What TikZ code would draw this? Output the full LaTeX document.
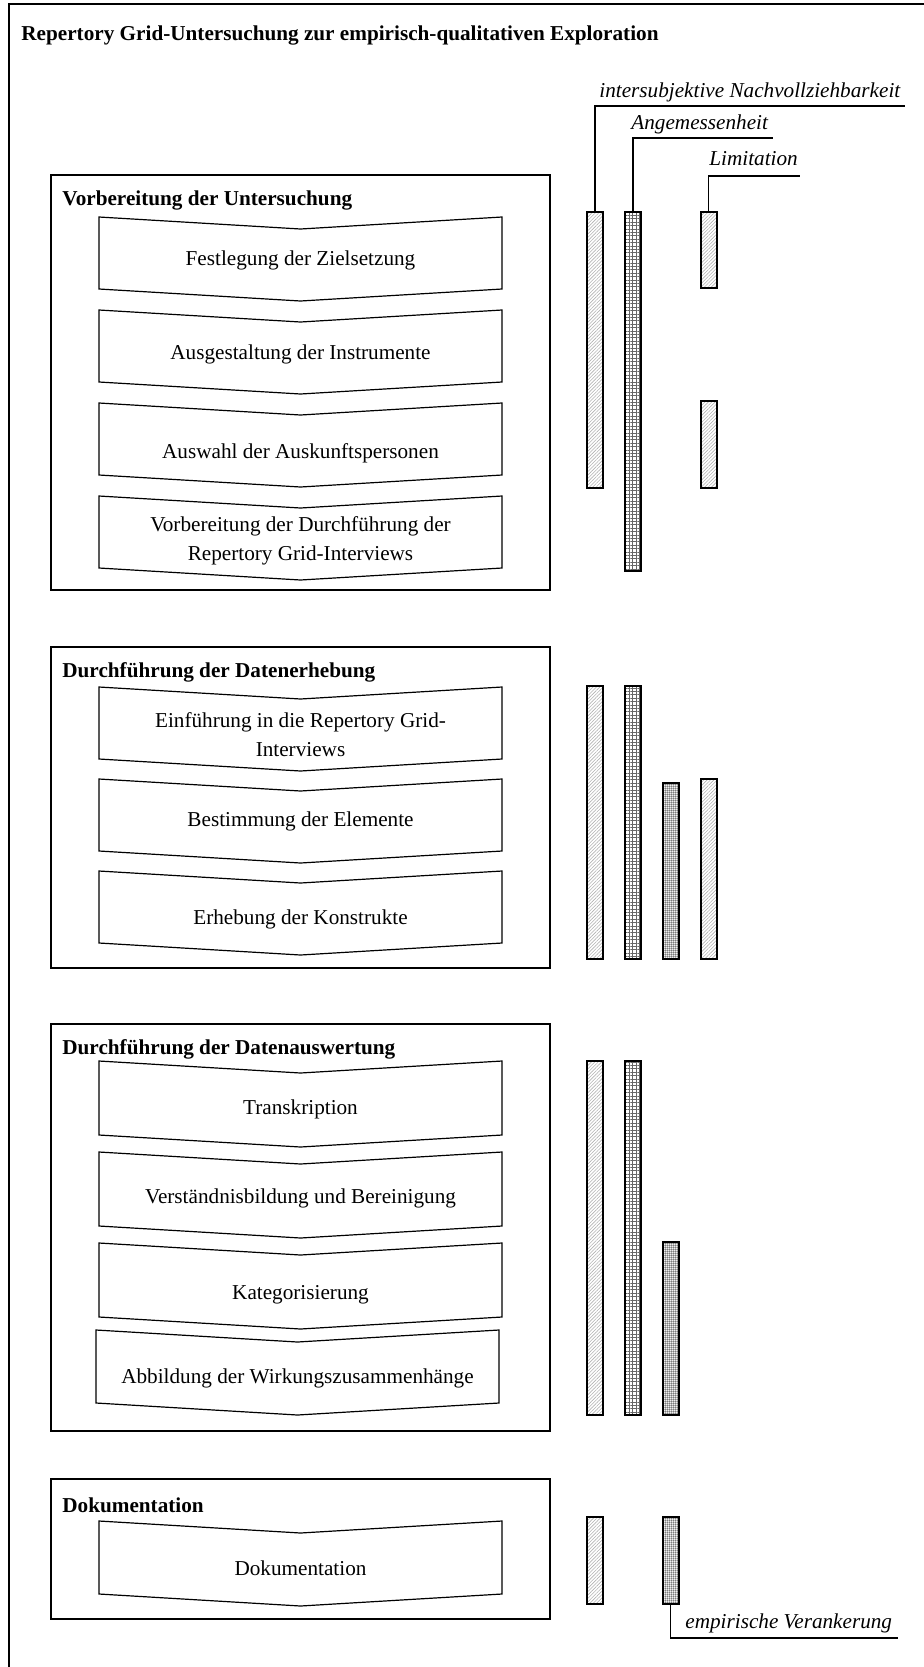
\documentclass[tikz,border=0pt]{standalone}
\usepackage{fontspec}
\setmainfont{Liberation Serif}
\usetikzlibrary{patterns.meta}
\tikzset{
  frame/.style={line width=0.65pt},
  secbox/.style={draw, line width=0.7pt, inner sep=0pt, outer sep=0pt},
  chev/.style={draw, line width=0.6pt, line join=miter},
  ctext/.style={align=center, font=\fontsize{10.6}{14.5}\selectfont, inner sep=0pt},
  sectitle/.style={anchor=west, font=\fontsize{10.6}{13}\selectfont\bfseries, inner sep=0pt},
  crit/.style={anchor=base west, font=\fontsize{10.6}{13}\selectfont\itshape, inner sep=0pt},
  barbase/.style={draw, line width=1pt, inner sep=0pt, outer sep=0pt, minimum width=8pt},
  barA/.style={barbase, pattern={Lines[angle=45,distance=1.2pt,line width=0.3pt]}, pattern color=gray!60},
  barB/.style={barbase, pattern={Hatch[angle=0,distance=1.7pt,line width=0.28pt]}, pattern color=black!60},
  barC/.style={barbase, pattern={Dots[distance=0.9pt,radius=0.42pt]}, pattern color=black!70},
  barD/.style={barA},
  lead/.style={line width=0.65pt},
}
\newcommand\mybar[5]{\node[#2, minimum height={(#5-#4)*0.5pt}] (#1) at (#3,{(#4+#5)/2}) {};}
\newcommand\mychev[5]{%
  \draw[chev] (99,#2) -- (300.5,{#2+12}) -- (502,#2) -- (502,#3) -- (300.5,{#3+12}) -- (99,#3) -- cycle;
  \node[ctext] (#1) at (300.5,#4) {#5};}
\newcommand\mysec[5]{\node[secbox, minimum width={(#4-#2)*0.5pt}, minimum height={(#5-#3)*0.5pt}] (#1) at ({(#2+#4)/2},{(#3+#5)/2}) {};}
\begin{document}
\begin{tikzpicture}[x=0.5pt,y=-0.5pt]
\useasboundingbox (0,0) rectangle (924,1667);
\draw[frame] (924,4) -- (9,4) -- (9,1667);
\node[sectitle] (main) at (21,35) {Repertory Grid-Untersuchung zur empirisch-qualitativen Exploration};

% section boxes
\mysec{s1}{51}{175}{550}{590}
\mysec{s2}{51}{647}{550}{968}
\mysec{s3}{51}{1024}{550}{1431}
\mysec{s4}{51}{1479}{550}{1619}
\node[sectitle] (t1) at (62,200) {Vorbereitung der Untersuchung};
\node[sectitle] (t2) at (62,672) {Durchführung der Datenerhebung};
\node[sectitle] (t3) at (62,1049) {Durchführung der Datenauswertung};
\node[sectitle] (t4) at (62,1505) {Dokumentation};

% chevrons
\mychev{c11}{217}{289}{260}{Festlegung der Zielsetzung}
\mychev{c12}{310}{382}{354}{Ausgestaltung der Instrumente}
\mychev{c13}{403}{475}{453}{Auswahl der Auskunftspersonen}
\mychev{c14}{496}{568}{541}{Vorbereitung der Durchführung der\\Repertory Grid-Interviews}
\mychev{c21}{687}{759}{735}{Einführung in die Repertory Grid-\\Interviews}
\mychev{c22}{779}{851}{821}{Bestimmung der Elemente}
\mychev{c23}{871}{943}{919}{Erhebung der Konstrukte}
\mychev{c31}{1061}{1135}{1109}{Transkription}
\mychev{c32}{1152}{1226}{1198}{Verständnisbildung und Bereinigung}
\mychev{c33}{1243}{1317}{1295}{Kategorisierung}
\begin{scope}[xshift=-1.5pt]
\mychev{c34}{1330}{1403}{1378}{Abbildung der Wirkungszusammenhänge}
\end{scope}
\mychev{c41}{1521}{1594}{1568}{Dokumentation}

% bars
\mybar{b11}{barA}{595}{212}{488}
\mybar{b12}{barB}{633}{212}{571}
\mybar{b14a}{barD}{708.5}{212}{288}
\mybar{b14b}{barD}{708.5}{401}{488}
\mybar{b21}{barA}{595}{686}{959}
\mybar{b22}{barB}{633}{686}{959}
\mybar{b23}{barC}{670.5}{783}{959}
\mybar{b24}{barD}{708.5}{779}{959}
\mybar{b31}{barA}{595}{1061}{1415}
\mybar{b32}{barB}{633}{1061}{1415}
\mybar{b33}{barC}{670.5}{1242}{1415}
\mybar{b41}{barA}{595}{1517}{1604}
\mybar{b43}{barC}{670.5}{1517}{1604}

% leader lines and criteria labels
\coordinate (e1) at (905,106);
\coordinate (e2) at (773,138);
\coordinate (e3) at (800,176);
\coordinate (e4) at (898,1638);
\draw[lead] (b11.north) |- (e1);
\draw[lead] (b12.north) |- (e2);
\draw[lead] (b14a.north) |- (e3);
\draw[lead] (b43.south) |- (e4);
\node[crit] (k1) at (599,97) {intersubjektive Nachvollziehbarkeit};
\node[crit] (k2) at (631,129) {Angemessenheit};
\node[crit] (k3) at (709,165) {Limitation};
\node[crit] (k4) at (685,1628) {empirische Verankerung};
\end{tikzpicture}
\end{document}
